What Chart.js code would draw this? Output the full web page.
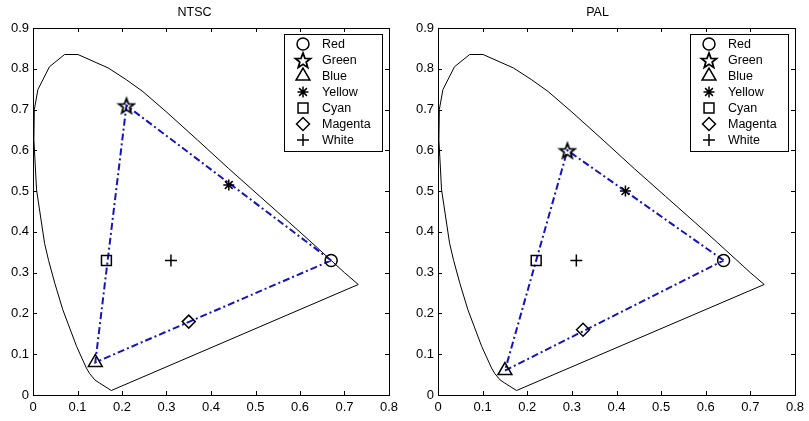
<!DOCTYPE html>
<html>
<head>
<meta charset="utf-8">
<script src="https://cdn.jsdelivr.net/npm/chart.js@4.4.0/dist/chart.umd.min.js"></script>
<style>
  html, body { margin: 0; padding: 0; background: #fff; }
  .panel { position: absolute; top: 0; height: 421px; }
  #ntsc-box { left: 0; width: 400px; }
  #pal-box { left: 400px; width: 409px; }
</style>
</head>
<body>
<div class="panel" id="ntsc-box"><canvas id="ntsc"></canvas></div>
<div class="panel" id="pal-box"><canvas id="pal"></canvas></div>
<script>
// spectral locus, closed by the purple line
const locusX = [0.176, 0.150, 0.139, 0.127, 0.120, 0.098, 0.067, 0.049, 0.035, 0.026, 0.008, 0.002, 0.003, 0.011, 0.037, 0.071, 0.101, 0.169, 0.210, 0.247, 0.300, 0.370, 0.440, 0.510, 0.575, 0.627, 0.666, 0.700, 0.731, 0.176];
const locusY = [0.011, 0.029, 0.037, 0.053, 0.066, 0.119, 0.209, 0.274, 0.330, 0.372, 0.503, 0.626, 0.700, 0.749, 0.805, 0.835, 0.835, 0.802, 0.773, 0.744, 0.694, 0.625, 0.555, 0.487, 0.424, 0.373, 0.334, 0.300, 0.271, 0.011];

const colorNames = ['Red', 'Green', 'Blue', 'Yellow', 'Cyan', 'Magenta', 'White'];
const ntscX = [0.67, 0.21, 0.14, 0.44, 0.165, 0.35, 0.31];
const ntscY = [0.33, 0.71, 0.08, 0.515, 0.33, 0.18, 0.33];
const palX = [0.64, 0.29, 0.15, 0.42, 0.22, 0.325, 0.31];
const palY = [0.33, 0.60, 0.06, 0.50, 0.33, 0.16, 0.33];
const gamutOrder = [0, 1, 2, 0];   // R -> G -> B -> R

const xTicks = [0, 0.1, 0.2, 0.3, 0.4, 0.5, 0.6, 0.7, 0.8];
const yTicks = [0, 0.1, 0.2, 0.3, 0.4, 0.5, 0.6, 0.7, 0.8, 0.9];

const FONT = "'Liberation Sans', Arial, sans-serif";
const BLUE = 'rgb(20,20,190)';

function makePentagram(r) {
    const c = document.createElement('canvas');
    const s = Math.ceil(r * 2 + 4);
    c.width = c.height = s;
    const g = c.getContext('2d');
    g.beginPath();
    for (let i = 0; i < 10; i++) {
        const a = -Math.PI / 2 + i * Math.PI / 5;
        const rr = i % 2 ? r * 0.42 : r;
        g.lineTo(s / 2 + rr * Math.cos(a), s / 2 + 1 + rr * Math.sin(a));
    }
    g.closePath();
    g.lineWidth = 1.8;
    g.strokeStyle = '#000';
    g.stroke();
    return c;
}

const markerStyles = ['circle', makePentagram(8), 'triangle', 'star', 'rect', 'rectRot', 'cross'];
const markerSizes = [6, 8, 8, 5.5, 7, 6.5, 6];

function buildDatasets(px, py) {
    const sets = [];
    sets.push({
        label: 'locus',
        data: locusX.map((x, i) => ({ x: x, y: locusY[i] })),
        borderColor: '#000', borderWidth: 1, pointRadius: 0,
        showLine: true, fill: false, order: 3,
    });
    sets.push({
        label: 'gamut',
        data: gamutOrder.map(i => ({ x: px[i], y: py[i] })),
        borderColor: BLUE, borderWidth: 2, borderDash: [7, 3, 2, 3],
        pointRadius: 0, showLine: true, fill: false, order: 2,
    });
    colorNames.forEach((name, i) => {
        sets.push({
            label: name,
            data: [{ x: px[i], y: py[i] }],
            pointStyle: markerStyles[i],
            pointRadius: markerSizes[i],
            pointHoverRadius: markerSizes[i],
            borderColor: '#000',
            backgroundColor: 'rgba(0,0,0,0)',
            borderWidth: 1.5,
            showLine: false,
            order: 1,
        });
    });
    return sets;
}

// box around the axes with inward ticks on all four sides
const boxTicks = {
    id: 'boxTicks',
    afterDraw(chart) {
        const { ctx, chartArea: a, scales } = chart;
        ctx.save();
        ctx.strokeStyle = '#000';
        ctx.lineWidth = 1;
        ctx.strokeRect(a.left + 0.5, a.top + 0.5, a.right - a.left, a.bottom - a.top);
        ctx.beginPath();
        xTicks.forEach(v => {
            const p = Math.round(scales.x.getPixelForValue(v)) + 0.5;
            ctx.moveTo(p, a.bottom); ctx.lineTo(p, a.bottom - 4);
            ctx.moveTo(p, a.top); ctx.lineTo(p, a.top + 4);
        });
        yTicks.forEach(v => {
            const p = Math.round(scales.y.getPixelForValue(v)) + 0.5;
            ctx.moveTo(a.left, p); ctx.lineTo(a.left + 4, p);
            ctx.moveTo(a.right, p); ctx.lineTo(a.right - 4, p);
        });
        ctx.stroke();
        ctx.restore();
    }
};

// legend box inside the axes, top right
const boxLegend = {
    id: 'boxLegend',
    afterDraw(chart) {
        const { ctx, chartArea: a } = chart;
        const items = chart.data.datasets.slice(2);
        const w = 98, h = 117;
        const left = a.right - 7 - w, top = a.top + 6;
        ctx.save();
        ctx.fillStyle = '#fff';
        ctx.fillRect(left, top, w, h);
        ctx.strokeStyle = '#000';
        ctx.lineWidth = 1;
        ctx.strokeRect(Math.round(left) + 0.5, Math.round(top) + 0.5, w, h);
        ctx.font = '12.5px ' + FONT;
        ctx.textBaseline = 'middle';
        items.forEach((ds, i) => {
            const y = top + 10 + i * 16;
            ctx.fillStyle = 'rgba(0,0,0,0)';
            ctx.strokeStyle = '#000';
            ctx.lineWidth = 1.5;
            Chart.helpers.drawPoint(ctx, {
                pointStyle: ds.pointStyle, radius: ds.pointRadius, rotation: 0, borderWidth: 1.5
            }, left + 19, y);
            ctx.fillStyle = '#000';
            ctx.fillText(ds.label, left + 38, y + 0.5);
        });
        ctx.restore();
    }
};

function makeChart(id, title, px, py, axisWidth, rightPad) {
    const ctx = document.getElementById(id).getContext('2d');
    return new Chart(ctx, {
        type: 'scatter',
        data: { datasets: buildDatasets(px, py) },
        plugins: [boxTicks, boxLegend],
        options: {
            responsive: true,
            maintainAspectRatio: false,
            animation: false,
            events: [],
            layout: { padding: { left: 0, right: rightPad, top: 0, bottom: 0 } },
            plugins: {
                legend: { display: false },
                tooltip: { enabled: false },
                title: {
                    display: true,
                    text: title,
                    color: '#000',
                    font: { size: 12.5, weight: 'normal', family: FONT, lineHeight: 1.2 },
                    padding: { top: 5, bottom: 8 },
                },
            },
            scales: {
                x: {
                    type: 'linear', min: 0, max: 0.8,
                    afterBuildTicks: s => { s.ticks = xTicks.map(v => ({ value: v })); },
                    afterFit: s => { s.height = 26; s.paddingLeft = 0; s.paddingRight = 0; },
                    grid: { display: false, drawTicks: false },
                    border: { display: false },
                    ticks: {
                        color: '#000', padding: 5, maxRotation: 0, autoSkip: false,
                        font: { size: 13, family: FONT },
                        callback: v => String(v),
                    },
                },
                y: {
                    type: 'linear', min: 0, max: 0.9,
                    afterBuildTicks: s => { s.ticks = yTicks.map(v => ({ value: v })); },
                    afterFit: s => { s.width = axisWidth; s.paddingTop = 0; s.paddingBottom = 0; },
                    grid: { display: false, drawTicks: false },
                    border: { display: false },
                    ticks: {
                        color: '#000', padding: 4, autoSkip: false,
                        font: { size: 13, family: FONT },
                        callback: v => String(v),
                    },
                },
            },
        },
    });
}

makeChart('ntsc', 'NTSC', ntscX, ntscY, 33, 11);
makeChart('pal', 'PAL', palX, palY, 38, 14);
</script>
</body>
</html>
